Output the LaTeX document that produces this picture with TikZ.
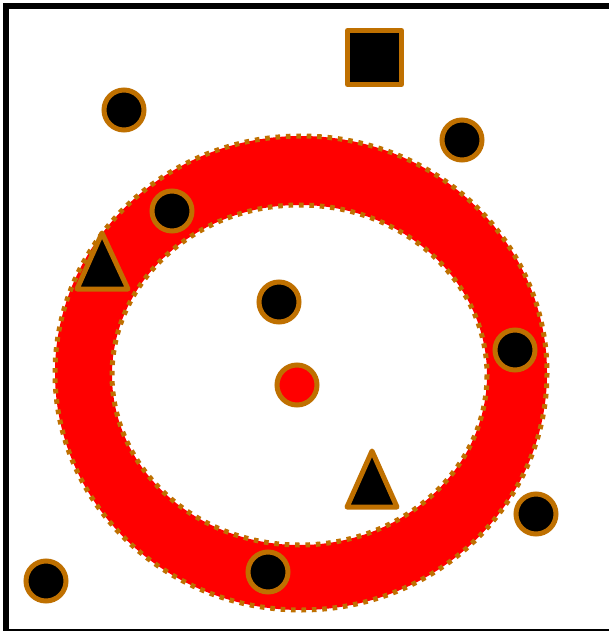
\documentclass[tikz,border=0pt]{standalone}
\definecolor{brn}{RGB}{191,112,0}
\tikzset{
  circ/.style={circle, draw=brn, fill=black, line width=5pt, minimum size=40pt, inner sep=0pt},
  redcirc/.style={circ, fill=red},
  sq/.style={rectangle, draw=brn, fill=black, line width=5pt, minimum size=54pt, inner sep=0pt, line join=round},
  tri/.style={draw=brn, fill=black, line width=5pt, line join=round},
  ringedge/.style={draw=brn, line width=5pt, dash pattern=on 4.6pt off 5.8pt},
  frame/.style={draw=black, line width=6pt}
}
\begin{document}
\begin{tikzpicture}[x=1pt,y=-1pt]
\useasboundingbox (0,0) rectangle (609,631);
\fill[white] (0,0) rectangle (609,631);
\draw[frame] (6,6) rectangle (614,632);
% ring
\fill[red, even odd rule] (301,373) ellipse [x radius=246, y radius=237]
  (299.5,375) ellipse [x radius=187.5, y radius=170];
\draw[ringedge] (301,373) ellipse [x radius=246, y radius=237];
\draw[ringedge] (299.5,375) ellipse [x radius=187.5, y radius=170];
% square
\node[sq] (s1) at (374.5,57.5) {};
% circles
\node[circ] (c1) at (124,110) {};
\node[circ] (c2) at (462,140) {};
\node[circ] (c3) at (172,211) {};
\node[circ] (c4) at (279,302) {};
\node[circ] (c5) at (515,350) {};
\node[redcirc] (c6) at (297,385) {};
\node[circ] (c7) at (536,514) {};
\node[circ] (c8) at (46,581) {};
\node[circ] (c9) at (268,572) {};
% triangles
\draw[tri] (102,233) -- (128,289) -- (77,289) -- cycle;
\draw[tri] (372,451) -- (397,507) -- (347,507) -- cycle;
\end{tikzpicture}
\end{document}
